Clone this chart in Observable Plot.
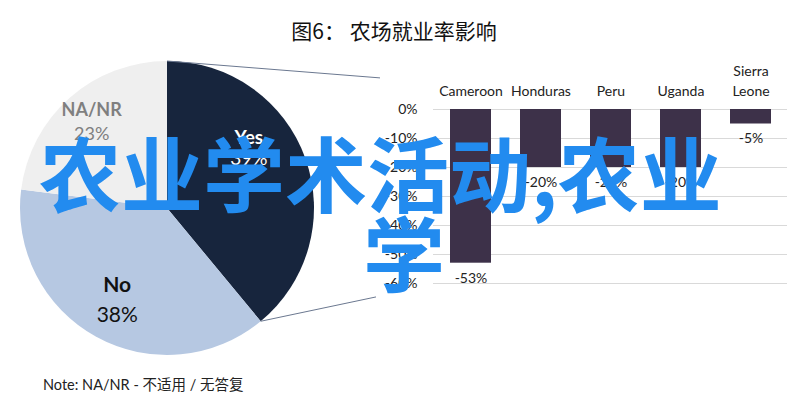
<!DOCTYPE html>
<html><head><meta charset="utf-8">
<script src="https://cdn.jsdelivr.net/npm/d3@7"></script>
<script src="https://cdn.jsdelivr.net/npm/@observablehq/plot@0.6"></script>
<style>
body{margin:0;background:#fff;}
#wrap{position:relative;width:808px;height:414px;overflow:hidden;background:#fff;font-family:Lato,"Noto Sans CJK SC",sans-serif;}
#title{position:absolute;left:0;top:17px;width:788px;text-align:center;font-family:"Noto Sans CJK SC";font-size:21px;color:#111;line-height:26px;}
#pie{position:absolute;left:0;top:57px;}
#bars{position:absolute;left:380px;top:55px;}
#note{position:absolute;left:43px;top:375px;font-size:14.5px;color:#222;line-height:20px;}
#overlay{position:absolute;left:0;top:0;pointer-events:none;}
</style></head>
<body><div id="wrap">
<div id="title"></div>
<div id="pie"></div>
<div id="bars"></div>
<div id="note"></div>
</div>
<script>
// ---- data ----
const titleText = "图6： 农场就业率影响";
const noteText = "Note: NA/NR - 不适用 / 无答复";
const pieLabels = ["Yes", "No", "NA/NR"];
const pieValues = [39, 38, 23];
const pieColors = ["#17253d", "#b6c8e2", "#efefef"];
const countries = ["Cameroon", "Honduras", "Peru", "Uganda", "Sierra\nLeone"];
const changes = [-0.53, -0.20, -0.20, -0.20, -0.05];
const yTicks = [0, -0.1, -0.2, -0.3, -0.4, -0.5, -0.6];
const overlayLines = ["农业学术活动,农业", "学"];

document.getElementById("title").textContent = titleText;
document.getElementById("note").textContent = noteText;

// ---- pie ----
const arcs = d3.pie().sort(null).value(d => d)(pieValues);
const slices = arcs.map((a, i) => ({label: pieLabels[i], value: pieValues[i], start: a.startAngle, end: a.endAngle}));
const colorOf = d3.scaleOrdinal(pieLabels, pieColors);
const labelStyle = {
  "Yes":   {color: "#ffffff", size: 19, k: 0.69, f: 0.38, gap: 21},
  "No":    {color: "#111111", size: 21, k: 0.71, f: 0.5, gap: 30},
  "NA/NR": {color: "#7f7f7f", size: 18, k: 0.78, f: 0.5, gap: 24}
};
const R = 147;
function lx(d) { const s = labelStyle[d.label]; const a = d.start + (d.end - d.start) * s.f; return s.k * Math.sin(a); }
function ly(d) { const s = labelStyle[d.label]; const a = d.start + (d.end - d.start) * s.f; return s.k * Math.cos(a); }

function pieMark(index, scales, values, dimensions) {
  const cx = scales.x(0), cy = scales.y(0), r = scales.x(1) - scales.x(0);
  const g = d3.create("svg:g");
  const arc = d3.arc().innerRadius(0).outerRadius(r);
  g.selectAll("path").data(slices).join("path")
    .attr("transform", `translate(${cx},${cy})`)
    .attr("d", d => arc({startAngle: d.start, endAngle: d.end}))
    .attr("fill", d => colorOf(d.label));
  const yes = slices[0];
  const p1 = [cx + r * Math.sin(yes.start), cy - r * Math.cos(yes.start)];
  const p2 = [cx + r * Math.sin(yes.end), cy - r * Math.cos(yes.end)];
  const W = dimensions.width;
  g.append("line").attr("x1", p1[0]).attr("y1", p1[1]).attr("x2", W - 5).attr("y2", cy - 0.885 * r)
    .attr("stroke", "#6b7890").attr("stroke-width", 1);
  g.append("line").attr("x1", p2[0]).attr("y1", p2[1]).attr("x2", W - 9).attr("y2", cy + 0.605 * r)
    .attr("stroke", "#6b7890").attr("stroke-width", 1);
  return g.node();
}

const piePlot = Plot.plot({
  width: 385, height: 305, margin: 0,
  x: {domain: [-1, 1], range: [20, 314], axis: null},
  y: {domain: [-1, 1], range: [298, 4], axis: null},
  style: {fontFamily: "Lato, 'Noto Sans CJK SC', sans-serif", background: "transparent"},
  marks: [
    pieMark,
    Plot.text(slices, {x: lx, y: d => ly(d) + labelStyle[d.label].gap / 2 / R, text: d => d.label,
      fill: d => labelStyle[d.label].color, fontSize: d => labelStyle[d.label].size, fontWeight: "bold"}),
    Plot.text(slices, {x: lx, y: d => ly(d) - labelStyle[d.label].gap / 2 / R, text: d => d.value + "%",
      fill: d => labelStyle[d.label].color, fontSize: d => labelStyle[d.label].size})
  ]
});
document.getElementById("pie").appendChild(piePlot);

// ---- bars ----
const barData = countries.map((c, i) => ({country: c, value: changes[i]}));
const pct = d => Math.round(d * 100) + "%";
const barPlot = Plot.plot({
  width: 420, height: 245,
  marginLeft: 53, marginRight: 13, marginTop: 54, marginBottom: 17,
  x: {domain: countries, paddingInner: 0.42, paddingOuter: 0.21, label: null},
  y: {domain: [-0.6, 0], label: null},
  style: {fontFamily: "Lato, 'Noto Sans CJK SC', sans-serif", fontSize: "14px", color: "#222", background: "transparent"},
  marks: [
    Plot.gridY(yTicks, {stroke: "#d9d9d9", strokeOpacity: 1}),
    Plot.axisY(yTicks, {tickSize: 0, tickPadding: 16, tickFormat: pct, fontSize: 14, label: null}),
    Plot.axisX({anchor: "top", tickSize: 0, tickPadding: 14, fontSize: 14, label: null, lineHeight: 1.4}),
    Plot.barY(barData, {x: "country", y: "value", fill: "#3d3149"}),
    Plot.text(barData, {x: "country", y: "value", text: d => pct(d.value), dy: 15, fontSize: 14, fill: "#222"})
  ]
});
document.getElementById("bars").appendChild(barPlot);

// ---- overlay text ----
const ns = "http://www.w3.org/2000/svg";
const ov = document.createElementNS(ns, "svg");
ov.setAttribute("id", "overlay");
ov.setAttribute("width", 808); ov.setAttribute("height", 414);
const ovPos = [[39, 206], [363, 286]];
overlayLines.forEach((t, i) => {
  const el = document.createElementNS(ns, "text");
  el.setAttribute("x", ovPos[i][0]); el.setAttribute("y", ovPos[i][1]);
  el.setAttribute("font-size", 82);
  el.setAttribute("font-weight", 700);
  el.setAttribute("font-family", "Noto Sans CJK SC");
  el.setAttribute("fill", "#228bef");
  el.textContent = t;
  ov.appendChild(el);
});
document.getElementById("wrap").appendChild(ov);
</script>
</body></html>
